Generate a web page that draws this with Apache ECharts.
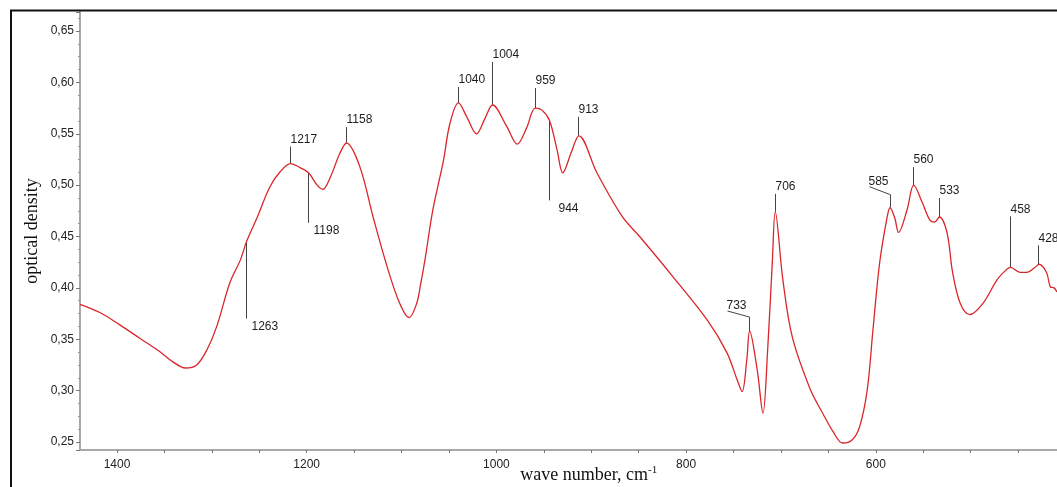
<!DOCTYPE html>
<html>
<head>
<meta charset="utf-8">
<script src="https://cdn.jsdelivr.net/npm/echarts@6/dist/echarts.min.js"></script>
<style>
  html, body { margin: 0; padding: 0; background: #fff; }
  #chart { width: 1057px; height: 487px; }
</style>
</head>
<body>
<div id="chart"></div>
<script>
// IR absorption spectrum: wave number (cm-1) vs optical density
const wavenumbers = [
  1439, 1418, 1397, 1376, 1355, 1341, 1328, 1316, 1305, 1295,
  1281, 1270, 1263, 1252, 1239, 1228, 1217, 1207, 1198, 1189,
  1183, 1175, 1165, 1158, 1144, 1130, 1115, 1102, 1092, 1084,
  1080, 1075, 1067, 1056, 1049, 1040, 1031, 1021, 1012, 1004,
  989, 978, 968, 959, 952, 944, 936, 930, 921, 913,
  894, 867, 849, 814, 778, 757, 746, 741, 736, 733,
  725, 719, 714, 709, 706, 698, 688, 669, 656, 645,
  635, 625, 617, 609, 603, 596, 588, 585, 580, 576,
  567, 560, 551, 543, 538, 533, 525, 519, 511, 501,
  487, 472, 462, 458, 448, 441, 432, 428, 420, 416,
  412, 409
];
const density = [
  0.384, 0.376, 0.364, 0.351, 0.338, 0.328, 0.322, 0.325, 0.340, 0.362,
  0.405, 0.427, 0.446, 0.469, 0.498, 0.513, 0.521, 0.517, 0.512, 0.500,
  0.496, 0.508, 0.531, 0.541, 0.518, 0.469, 0.420, 0.385, 0.371, 0.385,
  0.403, 0.429, 0.476, 0.523, 0.560, 0.580, 0.566, 0.550, 0.565, 0.578,
  0.557, 0.540, 0.556, 0.575, 0.573, 0.563, 0.534, 0.512, 0.532, 0.548,
  0.512, 0.469, 0.450, 0.411, 0.369, 0.337, 0.310, 0.299, 0.330, 0.358,
  0.320, 0.278, 0.340, 0.427, 0.474, 0.408, 0.352, 0.301, 0.278, 0.260,
  0.249, 0.252, 0.265, 0.301, 0.359, 0.424, 0.469, 0.478, 0.468, 0.454,
  0.476, 0.500, 0.483, 0.466, 0.464, 0.469, 0.454, 0.415, 0.385, 0.374,
  0.385, 0.408, 0.418, 0.420, 0.415, 0.415, 0.420, 0.423, 0.415, 0.401,
  0.400, 0.396
];

// Band positions marked on the spectrum
const peakLabels = [1263, 1217, 1198, 1158, 1040, 1004, 959, 944, 913, 733, 706, 585, 560, 533, 458, 428];

// Axis tick labels
const xTickLabels = [1400, 1200, 1000, 800, 600];
const yTickLabels = [0.25, 0.30, 0.35, 0.40, 0.45, 0.50, 0.55, 0.60, 0.65];

// Leader lines for band markers (pixel lengths, direction, optional elbow)
const leaderLayout = {
  1263: { dir: 'down', len: 78, dx: 5 },
  1217: { dir: 'up', len: 17 },
  1198: { dir: 'down', len: 50, dx: 5 },
  1158: { dir: 'up', len: 16 },
  1040: { dir: 'up', len: 16 },
  1004: { dir: 'up', len: 43 },
  959:  { dir: 'up', len: 20 },
  944:  { dir: 'down', len: 80, dx: 9 },
  913:  { dir: 'up', len: 19 },
  733:  { dir: 'up', len: 14, bend: [-22, -6] },
  706:  { dir: 'up', len: 18 },
  585:  { dir: 'up', len: 13, bend: [-21, -8] },
  560:  { dir: 'up', len: 18 },
  533:  { dir: 'up', len: 19 },
  458:  { dir: 'up', len: 51 },
  428:  { dir: 'up', len: 19 }
};

const spectrum = wavenumbers.map((w, i) => [w, density[i]]);
const peakPoints = peakLabels.map(w => [w, density[wavenumbers.indexOf(w)]]);

const sansFont = '"Liberation Sans", Arial, sans-serif';
const serifFont = '"Liberation Serif", "Times New Roman", serif';
const axisGray = '#a8a8a8';

const chart = echarts.init(document.getElementById('chart'), null, { renderer: 'canvas' });

function crisp(v) { return Math.round(v - 0.5) + 0.5; }

chart.setOption({
  backgroundColor: '#ffffff',
  animation: false,
  // plot area runs on past the right edge of the page (down to 400 cm-1)
  grid: { left: 80, width: 985.5, top: 12, bottom: 37, containLabel: false, outerBoundsMode: 'none' },
  xAxis: {
    type: 'value',
    inverse: true,
    min: 400,
    max: 1439,
    interval: 50,
    name: 'wave number, cm{sup|-1}',
    nameLocation: 'middle',
    nameGap: 15,
    nameMoveOverlap: false,
    nameTextStyle: {
      fontFamily: serifFont,
      fontSize: 18,
      color: '#111',
      padding: [0, 0, 0, 32],
      rich: {
        sup: { fontFamily: serifFont, fontSize: 11, color: '#111', padding: [0, 0, 9, 0] }
      }
    },
    axisLine: { show: true, lineStyle: { color: axisGray, width: 2 } },
    axisTick: { show: true, length: 3, lineStyle: { color: '#777', width: 1 } },
    axisLabel: {
      margin: 9,
      fontFamily: sansFont,
      fontSize: 12,
      color: '#222',
      showMinLabel: false,
      showMaxLabel: false,
      formatter: v => (xTickLabels.indexOf(v) >= 0 ? String(v) : '')
    },
    splitLine: { show: false }
  },
  yAxis: {
    type: 'value',
    min: 0.2422,
    max: 0.6685,
    splitNumber: 8,
    name: 'optical density',
    nameLocation: 'middle',
    nameGap: 39,
    nameMoveOverlap: false,
    nameTextStyle: { fontFamily: serifFont, fontSize: 18, color: '#111' },
    axisLine: { show: true, lineStyle: { color: axisGray, width: 2 } },
    axisTick: { show: true, length: 4, lineStyle: { color: '#777', width: 1 } },
    minorTick: { show: true, splitNumber: 4, length: 2, lineStyle: { color: '#999', width: 1 } },
    axisLabel: {
      margin: 6,
      fontFamily: sansFont,
      fontSize: 12,
      color: '#222',
      formatter: v => (yTickLabels.some(t => Math.abs(t - v) < 1e-6) ? v.toFixed(2).replace('.', ',') : '')
    },
    splitLine: { show: false }
  },
  graphic: [
    {
      type: 'rect',
      silent: true,
      z: 100,
      shape: { x: 11, y: 10.5, width: 2000, height: 2000 },
      style: { fill: null, stroke: '#111', lineWidth: 2 }
    }
  ],
  series: [
    {
      type: 'line',
      data: spectrum,
      showSymbol: false,
      smooth: 0.35,
      lineStyle: { color: '#d9262b', width: 1.3 },
      silent: true
    },
    {
      type: 'custom',
      data: peakPoints,
      silent: true,
      clip: false,
      z: 3,
      renderItem: function (params, api) {
        const w = api.value(0);
        const p = api.coord([w, api.value(1)]);
        const lay = leaderLayout[w];
        const x0 = crisp(p[0]);
        const pts = [[x0, p[1]]];
        let tx, ty, va;
        if (lay.dir === 'down') {
          const end = [x0, p[1] + lay.len];
          pts.push(end);
          tx = end[0] + lay.dx; ty = end[1] + 2; va = 'top';
        } else {
          const end = [x0, p[1] - lay.len];
          pts.push(end);
          let last = end;
          if (lay.bend) {
            last = [end[0] + lay.bend[0], end[1] + lay.bend[1]];
            pts.push(last);
            tx = last[0] - 1; ty = last[1] + 1;
          } else {
            tx = end[0]; ty = end[1] - 1;
          }
          va = 'bottom';
        }
        return {
          type: 'group',
          children: [
            {
              type: 'polyline',
              shape: { points: pts },
              style: { stroke: '#444', lineWidth: 1, fill: null }
            },
            {
              type: 'text',
              x: tx,
              y: ty,
              style: {
                text: String(w),
                fill: '#1e1e1e',
                font: '12px ' + sansFont,
                textAlign: 'left',
                textVerticalAlign: va
              }
            }
          ]
        };
      }
    }
  ]
});
</script>
</body>
</html>
